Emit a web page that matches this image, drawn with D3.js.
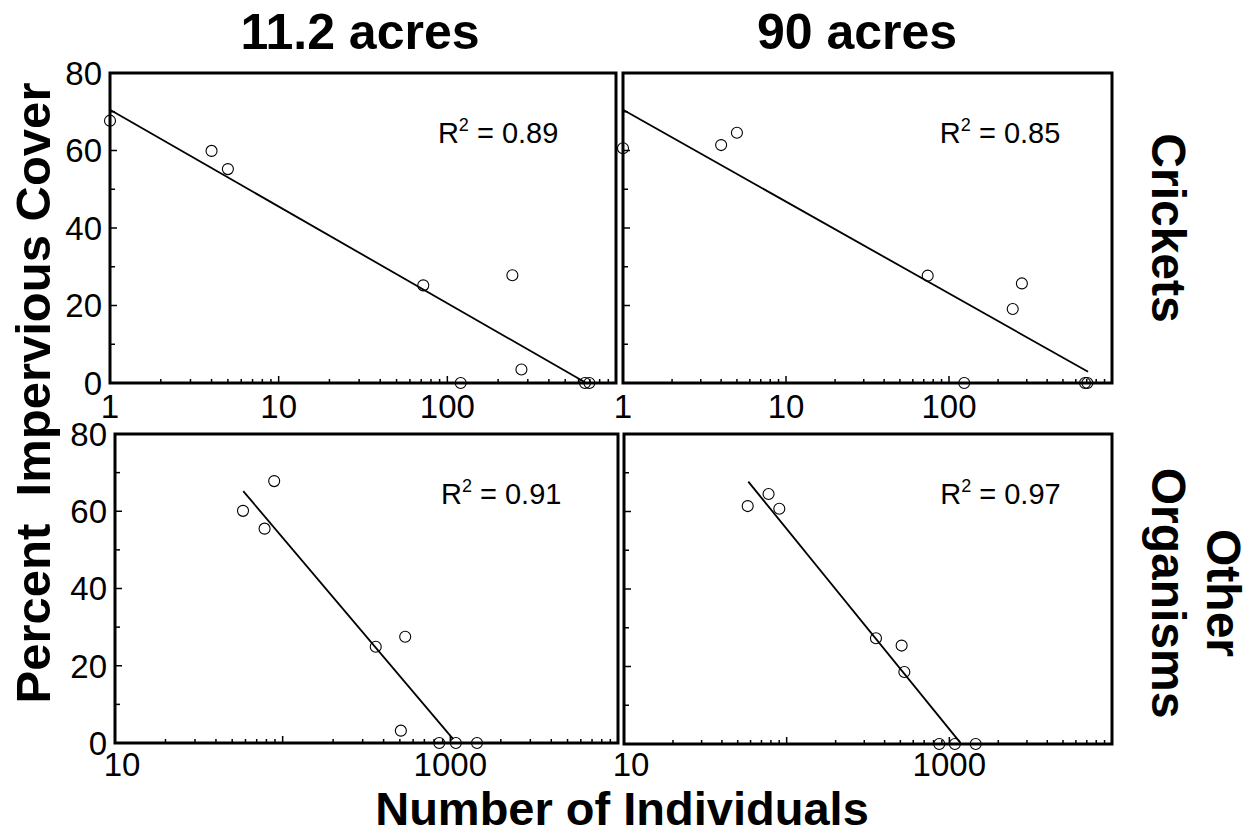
<!DOCTYPE html>
<html>
<head>
<meta charset="utf-8">
<script src="https://cdn.jsdelivr.net/npm/d3@7"></script>
<style>
  body { margin: 0; background: #fff; }
  text { font-family: "Liberation Sans", Arial, sans-serif; fill: #000; }
</style>
</head>
<body>
<div id="container"></div>
<script>
// Crickets, 11.2 acres
var cr11X = [1, 4.0, 5.0, 72, 243, 120, 275, 655, 695];
var cr11Y = [67.7, 59.9, 55.2, 25.2, 27.8, 0, 3.5, 0, 0];
var cr11FitX = [1, 655];
var cr11FitY = [70.5, 0.2];

// Crickets, 90 acres
var cr90X = [1, 4.0, 5.0, 74, 280, 246, 124, 683, 706];
var cr90Y = [60.6, 61.4, 64.6, 27.7, 25.7, 19.1, 0, 0, 0];
var cr90FitX = [1, 713];
var cr90FitY = [70.5, 2.9];

// Other organisms, 11.2 acres
var ot11X = [58, 78, 89, 359, 538, 507, 859, 1079, 1442];
var ot11Y = [60.1, 55.5, 67.8, 24.9, 27.5, 3.2, 0, 0, 0];
var ot11FitX = [58.2, 1040];
var ot11FitY = [65.2, 1.0];

// Other organisms, 90 acres
var ot90X = [57.6, 77.4, 90.1, 354, 509, 529, 867, 1082, 1452];
var ot90Y = [61.4, 64.5, 60.7, 27.3, 25.4, 18.6, 0, 0, 0];
var ot90FitX = [58.1, 1170];
var ot90FitY = [67.7, 0.3];

var r2Values = ["0.89", "0.85", "0.91", "0.97"];
var colTitles = ["11.2 acres", "90 acres"];
var rowTitles = [["Crickets"], ["Other", "Organisms"]];

var yTicks = [0, 10, 20, 30, 40, 50, 60, 70, 80];
var yLabels = [0, 20, 40, 60, 80];
var topXDomain = [1, 1000];
var bottomXDomain = [10, 10000];
var topXLabels = [1, 10, 100];
var bottomXLabels = [10, 1000];

var width = 1258;
var height = 835;

var svg = d3
  .select("#container")
  .append("svg")
  .attr("width", width)
  .attr("height", height);

var panels = [
  { x0: 110, x1: 616, y0: 73, y1: 383, dom: topXDomain, labels: topXLabels, px: cr11X, py: cr11Y, fx: cr11FitX, fy: cr11FitY, r2: r2Values[0], yLab: true, firstShift: 0, labDy: 35 },
  { x0: 623, x1: 1112, y0: 73, y1: 383, dom: topXDomain, labels: topXLabels, px: cr90X, py: cr90Y, fx: cr90FitX, fy: cr90FitY, r2: r2Values[1], yLab: false, firstShift: 0, labDy: 35 },
  { x0: 115, x1: 618, y0: 434, y1: 743, dom: bottomXDomain, labels: bottomXLabels, px: ot11X, py: ot11Y, fx: ot11FitX, fy: ot11FitY, r2: r2Values[2], yLab: true, firstShift: 7, labDy: 33 },
  { x0: 624, x1: 1112, y0: 434, y1: 744, dom: bottomXDomain, labels: bottomXLabels, px: ot90X, py: ot90Y, fx: ot90FitX, fy: ot90FitY, r2: r2Values[3], yLab: false, firstShift: 7, labDy: 32 }
];

function isDecade(d) {
  var l = Math.log10(d);
  return Math.abs(l - Math.round(l)) < 1e-9;
}

function drawPanel(p) {
  var x = d3.scaleLog().domain(p.dom).range([p.x0, p.x1]);
  var y = d3.scaleLinear().domain([0, 80]).range([p.y1, p.y0]);
  var g = svg.append("g");

  // inward y ticks
  g.selectAll(".ytick")
    .data(yTicks)
    .enter()
    .append("line")
    .attr("x1", p.x0)
    .attr("x2", d => p.x0 + (d % 20 === 0 ? 7 : 5))
    .attr("y1", d => y(d))
    .attr("y2", d => y(d))
    .attr("stroke", "#000")
    .attr("stroke-width", 1.5);

  // inward log x ticks
  g.selectAll(".xtick")
    .data(x.ticks())
    .enter()
    .append("line")
    .attr("x1", d => x(d))
    .attr("x2", d => x(d))
    .attr("y1", p.y1)
    .attr("y2", d => p.y1 - (isDecade(d) ? 7 : 4))
    .attr("stroke", "#000")
    .attr("stroke-width", 1.5);

  // frame
  g.append("rect")
    .attr("x", p.x0)
    .attr("y", p.y0)
    .attr("width", p.x1 - p.x0)
    .attr("height", p.y1 - p.y0)
    .attr("fill", "none")
    .attr("stroke", "#000")
    .attr("stroke-width", 3);

  // fit line
  var fit = p.fx.map((v, i) => [v, p.fy[i]]);
  g.append("path")
    .datum(fit)
    .attr("d", d3.line().x(d => x(d[0])).y(d => y(d[1])))
    .attr("fill", "none")
    .attr("stroke", "#000")
    .attr("stroke-width", 1.8);

  // points
  var pts = p.px.map((v, i) => [v, p.py[i]]);
  g.selectAll("circle")
    .data(pts)
    .enter()
    .append("circle")
    .attr("cx", d => x(d[0]))
    .attr("cy", d => y(d[1]))
    .attr("r", 5.5)
    .attr("fill", "none")
    .attr("stroke", "#000")
    .attr("stroke-width", 1.1);

  // x tick labels
  g.selectAll(".xlab")
    .data(p.labels)
    .enter()
    .append("text")
    .attr("x", (d, i) => x(d) + (i === 0 ? p.firstShift : 0))
    .attr("y", p.y1 + p.labDy)
    .attr("text-anchor", "middle")
    .style("font-size", "33px")
    .text(d => d);

  // y tick labels
  if (p.yLab) {
    g.selectAll(".ylab")
      .data(yLabels)
      .enter()
      .append("text")
      .attr("x", p.x0 - 8)
      .attr("y", d => y(d))
      .attr("dy", "0.36em")
      .attr("text-anchor", "end")
      .style("font-size", "33px")
      .text(d => d);
  }

  // R squared
  var r = g.append("text")
    .attr("x", p.x0 + (p.x1 - p.x0) * 0.648)
    .attr("y", p.y0 + 70)
    .style("font-size", "29px");
  r.append("tspan").text("R");
  r.append("tspan").attr("dy", -12).style("font-size", "18px").text("2");
  r.append("tspan").attr("dy", 12).text(" = " + p.r2);
}

panels.forEach(drawPanel);

// column titles
svg.selectAll(".coltitle")
  .data(colTitles)
  .enter()
  .append("text")
  .attr("x", (d, i) => i === 0 ? 360 : 857)
  .attr("y", 49)
  .attr("text-anchor", "middle")
  .style("font-size", "50px")
  .style("font-weight", "bold")
  .text(d => d);

// row titles (rotated, reading downward)
rowTitles.forEach(function(lines, i) {
  var cy = i === 0 ? 228 : 593;
  var t = svg.append("text")
    .attr("transform", "translate(1152," + cy + ") rotate(90)")
    .attr("text-anchor", "middle")
    .style("font-size", "48px")
    .style("font-weight", "bold");
  lines.forEach(function(s, j) {
    t.append("tspan")
      .attr("x", 0)
      .attr("y", -(lines.length - 1 - j) * 55)
      .text(s);
  });
});

// axis titles
svg.append("text")
  .attr("transform", "translate(50,393) rotate(-90)")
  .attr("text-anchor", "middle")
  .style("font-size", "49px")
  .style("font-weight", "bold")
  .style("white-space", "pre")
  .text("Percent  Impervious Cover");

svg.append("text")
  .attr("x", 622)
  .attr("y", 825)
  .attr("text-anchor", "middle")
  .style("font-size", "47px")
  .style("font-weight", "bold")
  .text("Number of Individuals");
</script>
</body>
</html>
